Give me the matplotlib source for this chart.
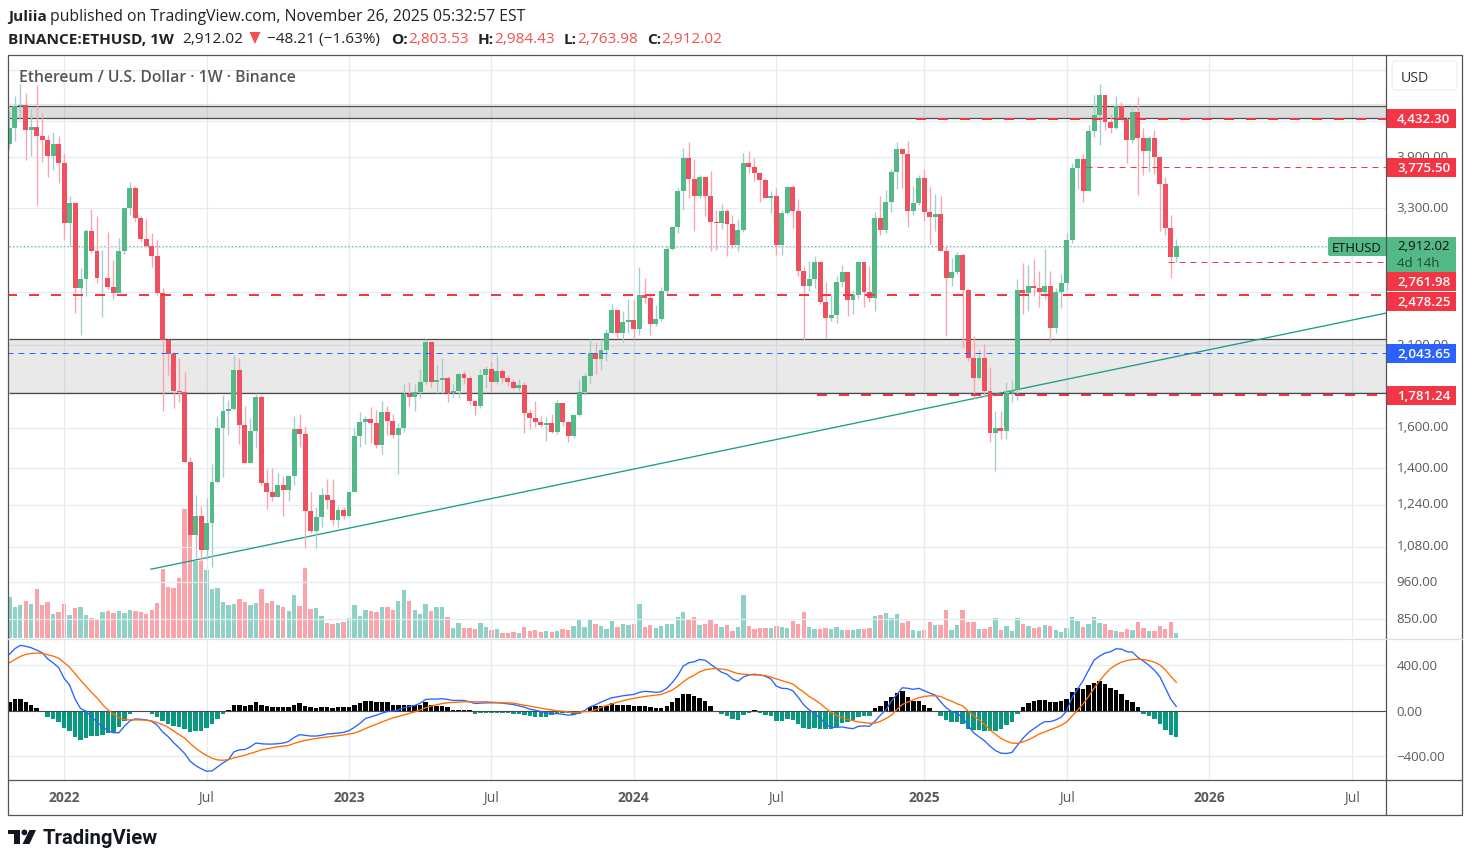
import matplotlib
matplotlib.use('Agg')
import matplotlib.pyplot as plt
import matplotlib.dates as mdates
from matplotlib.patches import Rectangle, FancyBboxPatch, Polygon, Circle
from matplotlib.ticker import NullLocator
from matplotlib.transforms import ScaledTranslation
import numpy as np
import pandas as pd

W, H = 1471, 862

# weekly candles, opens are the close of the week before
first_open = 4075
closes = [4296,4620,4636,4268,4310,4184,4129,3917,4075,3827,
          3141,3355,2534,2611,3059,2864,2620,2620,2542,2493,
          2864,3300,3525,3193,2979,2911,2817,2493,2135,2038,
          1805,1799,1428,1123,1196,1068,1168,1337,1598,1688,
          1701,1934,1613,1423,1582,1770,1332,1293,1272,1323,
          1302,1364,1592,1566,1215,1138,1191,1281,1260,1179,
          1219,1195,1293,1556,1630,1645,1624,1510,1685,1634,
          1561,1597,1787,1770,1799,1858,2120,1858,1871,1884,
          1793,1805,1908,1884,1746,1720,1903,1940,1858,1927,
          1884,1858,1823,1841,1678,1651,1630,1613,1624,1577,
          1736,1630,1556,1668,1799,1896,2046,2006,2066,2184,
          2357,2184,2263,2281,2214,2476,2453,2250,2289,2510,
          2883,3100,3490,3892,3631,3433,3655,3433,3151,3141,
          3267,3131,2921,3069,3827,3777,3705,3619,3410,3433,
          2921,3246,3537,3267,2680,2551,2611,2761,2421,2296,
          2319,2585,2671,2437,2476,2761,2501,2453,3193,3069,
          3366,3716,4009,3943,3267,3355,3643,3256,3204,3235,
          2864,2620,2671,2826,2518,2012,1884,2012,1805,1570,
          1597,1582,1793,1811,2518,2493,2551,2534,2501,2551,
          2221,2501,2577,2969,3765,3879,3490,4254,4484,4792,
          4382,4296,4620,4426,4129,4528,4157,3983,4157,3905,
          3572,3090,2803.53,2912.02]
highs = [4544,4776,4968,4822,4574,4952,4515,4198,4240,4184,
         3943,3433,3366,2712,3079,3289,3214,2873,3049,2780,
         2989,3300,3595,3548,3214,3183,3039,2969,2534,2142,
         2038,2012,1921,1452,1283,1236,1270,1417,1663,1780,
         1752,2032,2012,1719,1651,1793,1781,1395,1400,1377,
         1364,1364,1663,1675,1608,1293,1231,1310,1350,1350,
         1235,1231,1297,1598,1685,1662,1712,1696,1748,1718,
         1673,1624,1850,1858,1850,1940,2142,2120,1966,2012,
         1896,1847,1915,1927,1896,1752,1940,1960,1986,2032,
         1940,1903,1877,1877,1858,1701,1746,1662,1656,1673,
         1752,1736,1634,1668,1871,1915,2142,2120,2142,2214,
         2402,2357,2349,2445,2437,2716,2620,2476,2397,2542,
         2911,3110,3525,4022,4100,3879,3680,3643,3728,3278,
         3344,3289,3225,3183,3956,3982,3892,3716,3643,3490,
         3525,3278,3549,3561,3399,2725,2771,2817,2771,2585,
         2476,2637,2734,2671,2510,2771,2761,2725,3256,3433,
         3501,3753,4100,4009,4115,3549,3680,3753,3537,3456,
         3433,2921,2798,2854,2845,2526,2163,2073,2108,1953,
         1690,1690,1858,1871,2611,2752,2734,2789,2680,2883,
         2680,2534,2654,3039,3827,3892,3943,4339,4783,4968,
         4783,4500,4776,4681,4455,4620,4760,4296,4184,4268,
         3917,3655,3225,2984.43]
lows = [4009,4115,4411,3866,3917,3333,3840,3655,3741,3584,
        2979,2911,2335,2168,2471,2845,2577,2304,2526,2445,
        2501,2835,3225,3151,2950,2902,2716,2477,1691,1902,
        1707,1741,1428,1123,1040,1030,1037,1010,1332,1359,
        1561,1696,1518,1423,1423,1495,1323,1223,1256,1272,
        1195,1256,1323,1500,1075,1131,1075,1152,1223,1160,
        1152,1183,1195,1293,1500,1515,1520,1495,1466,1561,
        1546,1372,1577,1720,1690,1764,1847,1829,1793,1793,
        1741,1770,1764,1847,1725,1668,1707,1823,1799,1847,
        1852,1835,1817,1805,1570,1592,1603,1603,1531,1571,
        1566,1608,1525,1546,1662,1781,1852,1908,1934,1992,
        2184,2148,2120,2186,2142,2170,2413,2170,2235,2274,
        2476,2873,3039,3278,3410,3059,3410,3214,2864,2873,
        3079,2817,2893,2864,3049,3705,3607,3366,3410,3246,
        2826,2826,3235,3090,2637,2135,2510,2534,2405,2148,
        2274,2259,2542,2311,2327,2445,2381,2421,2349,3018,
        3039,3256,3513,3525,3100,3225,3333,3162,2930,3059,
        2864,2161,2551,2654,2080,1992,1758,1877,1770,1525,
        1386,1541,1541,1741,1752,2327,2349,2468,2381,2445,
        2120,2184,2373,2518,2940,3513,3366,3490,4171,4063,
        4268,4226,4282,4426,3827,4088,3445,3679,3716,3693,
        3059,3018,2620,2763.98]
volumes = [41,31,33,37,34,49,33,36,24,26,
           34,23,30,31,23,20,18,26,27,25,
           27,25,28,27,26,24,28,35,69,51,
           50,60,129,105,77,77,68,49,50,36,
           33,34,39,36,33,35,49,35,37,33,
           31,27,43,32,70,29,30,22,15,14,
           15,16,20,33,22,28,27,26,31,31,
           28,37,48,37,28,24,34,27,31,31,
           21,10,15,10,10,9,15,11,8,9,
           5,5,6,5,11,7,8,6,7,6,
           7,9,8,12,18,11,19,14,
           12,9,17,11,14,13,14,34,11,13,
           10,12,14,14,21,26,19,21,13,14,
           18,14,11,13,7,11,43,12,9,10,
           10,10,12,11,10,17,14,26,11,9,
           9,10,9,11,8,8,8,9,9,10,
           22,23,25,20,24,15,17,8,7,8,
           16,13,13,28,8,13,28,16,16,9,
           9,11,20,8,12,7,20,14,12,10,
           11,13,12,8,6,10,21,17,11,14,
           21,15,14,8,7,6,9,8,16,10,
           7,7,12,9,16,5]

macd_line = [495,545,575,566,554,533,510,456,421,379,
             284,225,101,18,-6,-53,-104,-142,-178,-196,
             -196,-139,-92,-74,-77,-83,-95,-130,-190,-231,
             -284,-329,-379,-447,-486,-513,-536,-533,-498,-462,
             -433,-364,-347,-344,-320,-287,-293,-296,-296,-293,
             -287,-273,-237,-213,-219,-225,-225,-219,-207,-204,
             -199,-193,-178,-148,-113,-71,-56,-41,-24,-9,
             -6,6,24,36,44,65,98,101,101,104,
             98,89,89,89,77,62,65,68,68,68,
             65,59,53,41,30,12,3,-9,-21,-27,
             -27,-33,-41,-36,-21,0,
             33,50,74,95,113,121,130,136,142,160,
             169,166,160,166,196,246,308,391,421,430,
             450,444,409,373,338,320,279,258,296,314,
             320,314,302,279,216,196,193,175,116,50,
             6,-30,-65,-121,-148,-148,-145,-154,-160,-139,
             -136,-139,-95,-41,6,83,142,201,196,187,
             196,175,154,136,77,24,-9,-24,-62,-130,
             -196,-231,-267,-314,-353,-376,-379,-370,-308,-246,
             -196,-160,-127,-98,-98,-83,-59,-3,116,190,
             264,356,444,480,507,519,545,542,519,516,
             468,436,400,356,299,201,101,36]
signal_line = [421,450,477,495,504,507,504,492,480,462,
               424,382,326,267,213,160,113,53,6,-33,
               -65,-80,-83,-83,-83,-86,-92,-107,-124,-148,
               -181,-213,-243,-290,-332,-367,-397,-421,-436,-439,
               -433,-418,-406,-394,-379,-364,-347,-338,-329,-320,
               -314,-308,-290,-276,-264,-255,-246,-240,-234,-228,
               -222,-216,-207,-199,-181,-160,-139,-121,-101,-83,
               -65,-53,-39,-24,-12,6,24,39,50,62,
               68,71,74,77,77,77,77,77,74,71,
               68,68,65,56,47,39,30,21,12,6,
               -3,-6,-12,-18,-15,-9,
               -9,6,27,44,59,74,86,98,107,116,
               124,130,136,142,160,181,213,252,287,311,
               341,359,367,370,367,359,341,326,320,317,
               314,314,308,296,279,264,249,234,196,163,
               124,95,62,21,-18,-44,-62,-77,-89,-101,
               -107,-113,-110,-95,-71,-41,9,53,74,95,
               113,124,130,130,124,101,83,59,41,-3,
               -47,-83,-121,-169,-210,-246,-270,-287,-290,-276,
               -258,-234,-207,-190,-169,-151,-130,-101,-47,3,
               59,124,196,261,320,370,403,427,441,450,
               453,450,441,427,403,359,302,249]
macd_hist = [71,98,98,71,53,18,-9,-53,-71,-98,
             -151,-178,-231,-258,-240,-222,-222,-213,-196,-187,
             -142,-89,-27,-4,-4,-9,-27,-53,-89,-116,
             -133,-142,-160,-187,-178,-178,-151,-116,-71,-27,
             9,53,53,44,53,71,53,36,27,27,
             27,27,53,62,44,27,18,27,27,18,
             27,27,27,53,62,80,80,71,71,71,
             53,53,53,53,53,53,71,53,44,36,
             27,9,9,9,9,-27,-18,-18,-18,-18,
             -18,-18,-27,-27,-36,-44,-53,-53,-53,-36,
             -27,-18,-18,-36,-27,-9,
             27,36,36,44,62,53,53,53,36,44,
             44,27,18,18,44,71,107,142,142,124,
             107,80,36,-3,-27,-44,-71,-80,-36,-18,
             3,-18,-36,-44,-89,-89,-71,-80,-116,-151,
             -160,-151,-160,-160,-160,-142,-107,-98,-80,-53,
             -44,-44,18,44,80,116,151,169,116,80,
             80,53,18,0,-44,-80,-98,-98,-116,-160,
             -169,-169,-178,-178,-178,-160,-124,-98,-27,27,
             62,80,89,89,71,71,80,98,160,196,
             187,222,240,258,231,196,178,142,89,71,
             27,-27,-44,-71,-116,-169,-213,-231]

price_ticks = [5200,4400,3900,3300,2900,2500,2100,1800,1600,1400,1240,1080,960,850]
hidden_ticks = [5200,4400,2900,2500]  # covered by the button and level boxes
macd_ticks = [400,0,-400]
time_ticks = ['2022-01-03','2022-07-04','2023-01-02','2023-07-03','2024-01-01',
              '2024-07-01','2025-01-06','2025-07-07','2026-01-05','2026-07-06']
time_labels = ['2022','Jul','2023','Jul','2024','Jul','2025','Jul','2026','Jul']

# drawn levels: price, colour, line width in px, first week index
level_prices = [4432.30,3775.50,2761.98,2478.25,2043.65,1781.24]
level_colors = ['#F23645','#F23645','#F23645','#F23645','#2962FF','#F23645']
level_widths = [2,1,1,2,1,2]
level_starts = [166,197,212,0,0,148]
level_labels = ['4,432.30','3,775.50','2,761.98','2,478.25','2,043.65','1,781.24']
zones = [(4441,4620),(1793,2142)]
trend_dates = ['2022-04-24','2026-08-19']
trend_prices = [1003,2334]
last_price = 2912.02

plt.rcParams['font.family'] = ['Open Sans','DejaVu Sans']
GRID = '#E3ECF2'
TEXT = '#5A5A5A'
UP, DOWN = '#53B987', '#EF5060'


def rect(l, t, r, b):
    return [l / W, 1 - b / H, (r - l) / W, (b - t) / H]


def raise_labels(labels, px):
    """Tick labels sit a little above their grid lines"""
    shift = ScaledTranslation(0, px / 100, fig.dpi_scale_trans)
    for lab in labels:
        lab.set_transform(lab.get_transform() + shift)


fig = plt.figure(figsize=(W / 100, H / 100), dpi=100, facecolor='white')
ax_vol = fig.add_axes(rect(9, 56, 1386, 639), zorder=1)
ax = fig.add_axes(rect(9, 56, 1386, 639), zorder=2, facecolor='none')
ax_macd = fig.add_axes(rect(9, 640, 1386, 781), zorder=2)
over = fig.add_axes([0, 0, 1, 1], zorder=5, facecolor='none')

weeks = pd.date_range('2021-10-25', periods=len(closes), freq='7D')
x = mdates.date2num(weeks)
opens = np.array([first_open] + closes[:-1], dtype=float)
closes_a = np.array(closes, dtype=float)
up = closes_a >= opens
xlim = (x[0] - 0.4, x[0] + 1759)
tick_x = mdates.date2num(pd.to_datetime(time_ticks))

# volume sits behind the candles on its own scale
vol_colors = ['#089981' if u else '#F23645' for u in up]
ax_vol.bar(x, volumes, width=5.6, color=vol_colors, alpha=0.45, linewidth=0)
ax_vol.set_xlim(xlim)
ax_vol.set_ylim(0, 583)
ax_vol.axis('off')

ax.set_yscale('log')
ax.set_xlim(xlim)
ax.set_ylim(799.4, 5466)
ax.yaxis.set_minor_locator(NullLocator())
ax.set_yticks(price_ticks)
ax.set_yticklabels(['' if t in hidden_ticks else f'{t:,.2f}' for t in price_ticks])
ax.yaxis.tick_right()
ax.set_xticks(tick_x)
ax.set_xticklabels([])
ax.tick_params(length=0, labelsize=9.6, labelcolor=TEXT, pad=7.5)
raise_labels(ax.get_yticklabels(), 2.5)
ax.grid(True, color=GRID, linewidth=0.9)
ax.set_axisbelow(True)
for s in ax.spines.values():
    s.set_visible(False)

for low, high in zones:
    ax.axhspan(low, high, color='#787878', alpha=0.16 if low < 3000 else 0.25, linewidth=0, zorder=1)
    ax.hlines([low, high], xlim[0], xlim[1], color='#4A4A4A', linewidth=0.9, zorder=1.5)
ax.hlines(4650, xlim[0], xlim[1], color='#DCE8DC', linewidth=0.8, zorder=1.5)

ax.plot(mdates.date2num(pd.to_datetime(trend_dates)), trend_prices, color='#1F9C88', linewidth=0.95, zorder=2)
ax.hlines(last_price, xlim[0], xlim[1], color='#3FA98C', linewidth=0.75, linestyle=(0, (1, 2.5)), zorder=1.6)

ax.vlines(x[up], np.array(lows)[up], np.array(highs)[up], color='#A6CCCE', linewidth=0.95, zorder=3)
ax.vlines(x[~up], np.array(lows)[~up], np.array(highs)[~up], color='#F9A4AE', linewidth=0.95, zorder=3)
body_low = np.minimum(opens, closes_a)
body_high = np.maximum(opens, closes_a)
ax.bar(x, body_high - body_low, bottom=body_low, width=6.3,
       color=[UP if u else DOWN for u in up], linewidth=0, zorder=4)

for price, color, lw, start in zip(level_prices, level_colors, level_widths, level_starts):
    pattern = (0, (5, 6)) if lw == 2 else (0, (6, 5))
    ax.plot([x[start] - 3.5, xlim[1]], [price, price], color=color, linewidth=lw * 0.72,
            linestyle=pattern, zorder=5)

# macd pane
ax_macd.set_xlim(xlim)
ax_macd.set_ylim(-613, 631)
hist = np.array(macd_hist)
ax_macd.bar(x, hist, width=5.7, color=['black' if v >= 0 else '#089981' for v in hist], linewidth=0, zorder=2)
ax_macd.axhline(0, color='#4A4A4A', linewidth=0.8, zorder=2.5)
ax_macd.plot(x, macd_line, color='#2962FF', linewidth=0.95, zorder=3)
ax_macd.plot(x, signal_line, color='#FF6D00', linewidth=0.95, zorder=3)
ax_macd.set_yticks(macd_ticks)
ax_macd.set_yticklabels([f'{t:.2f}'.replace('-', '\u2212') for t in macd_ticks])
ax_macd.yaxis.tick_right()
ax_macd.set_xticks(tick_x)
ax_macd.set_xticklabels(time_labels)
for lab, name in zip(ax_macd.get_xticklabels(), time_labels):
    lab.set_fontweight('bold' if name != 'Jul' else 'normal')
ax_macd.tick_params(axis='y', length=0, labelsize=9.6, labelcolor=TEXT, pad=7.5)
ax_macd.tick_params(axis='x', length=0, labelsize=10, labelcolor=TEXT, pad=7.5)
raise_labels(ax_macd.get_yticklabels(), 1)
ax_macd.grid(True, color=GRID, linewidth=0.9)
ax_macd.set_axisbelow(True)
for s in ax_macd.spines.values():
    s.set_visible(False)

# frame, labels and header on a pixel overlay
over.set_xlim(0, W)
over.set_ylim(H, 0)
over.axis('off')
over.add_patch(Rectangle((8.5, 55.5), 1454, 760, fill=False, edgecolor='#555555', linewidth=0.9))
over.plot([1386.5, 1386.5], [55.5, 815.5], color='#555555', linewidth=0.9)
over.plot([8.5, 1462.5], [781, 781], color='#555555', linewidth=0.9)
over.plot([8.5, 1462.5], [639.5, 639.5], color='#DDDFE6', linewidth=0.9)

over.add_patch(FancyBboxPatch((1392, 62), 65, 29, boxstyle='round,pad=0,rounding_size=4',
                              facecolor='white', edgecolor='#EFEFEF', linewidth=0.9))
over.text(1401, 78, 'USD', fontsize=10.2, color='#333333', va='center')

box_tops = [110, 159, 273, 293, 345, 387]
for i, label in enumerate(level_labels):
    top = box_tops[i]
    over.add_patch(Rectangle((1387, top), 69, 19, facecolor=level_colors[i], linewidth=0))
    over.text(1397, top + 9.5, label, fontsize=9.6, color='white', va='center', fontweight='semibold')

over.add_patch(Rectangle((1387, 238), 69, 35, facecolor=UP, linewidth=0))
over.text(1397, 247, '2,912.02', fontsize=9.6, color='#111111', va='center')
over.text(1397, 263.5, '4d 14h', fontsize=9.6, color='#1C4A36', va='center')
over.add_patch(FancyBboxPatch((1328, 238), 60, 19, boxstyle='round,pad=0,rounding_size=2',
                              facecolor=UP, linewidth=0))
over.text(1332, 249, 'ETHUSD', fontsize=9.4, color='#111111', va='center')

over.text(19, 77.5, 'Ethereum / U.S. Dollar \u00b7 1W \u00b7 Binance', fontsize=11.3,
          fontweight='semibold', color='#555555', va='center')

RED = '#EF5350'
DARK = '#222222'
over.text(8, 17, 'Juliia', fontsize=11.1, fontweight='bold', color=DARK, va='center')
over.text(50, 17, 'published on TradingView.com, November 26, 2025 05:32:57 EST', fontsize=11.35,
          color=DARK, va='center')
header_bits = [(8, 'BINANCE:ETHUSD, 1W', 'bold', DARK), (182.7, '2,912.02', 'normal', DARK),
               (266.6, '\u221248.21 (\u22121.63%)', 'normal', DARK), (390.7, 'O:', 'bold', DARK),
               (408.6, '2,803.53', 'normal', RED), (477.5, 'H:', 'bold', DARK),
               (494.4, '2,984.43', 'normal', RED), (563.7, 'L:', 'bold', DARK),
               (576.8, '2,763.98', 'normal', RED), (647, 'C:', 'bold', DARK),
               (661.7, '2,912.02', 'normal', RED)]
for px, s, weight, color in header_bits:
    over.text(px, 39.5, s, fontsize=11.1, fontweight=weight, color=color, va='center')
over.add_patch(Polygon([(249.5, 33), (260.5, 33), (255, 45)], facecolor=RED, linewidth=0))

# logo
mark = '#131722'
over.add_patch(Polygon([(8, 831), (20, 831), (20, 845), (14, 845), (14, 835.5), (8, 835.5)], facecolor=mark, linewidth=0))
over.add_patch(Circle((24.4, 833.4), 2.9, facecolor=mark, linewidth=0))
over.add_patch(Polygon([(29.5, 831), (36, 831), (29.5, 845), (22.5, 845)], facecolor=mark, linewidth=0))
over.text(42.5, 838.5, 'TradingView', fontsize=14.6, fontfamily='Roboto', fontweight='bold', color=mark, va='center')

fig.savefig('out.png', dpi=100)
